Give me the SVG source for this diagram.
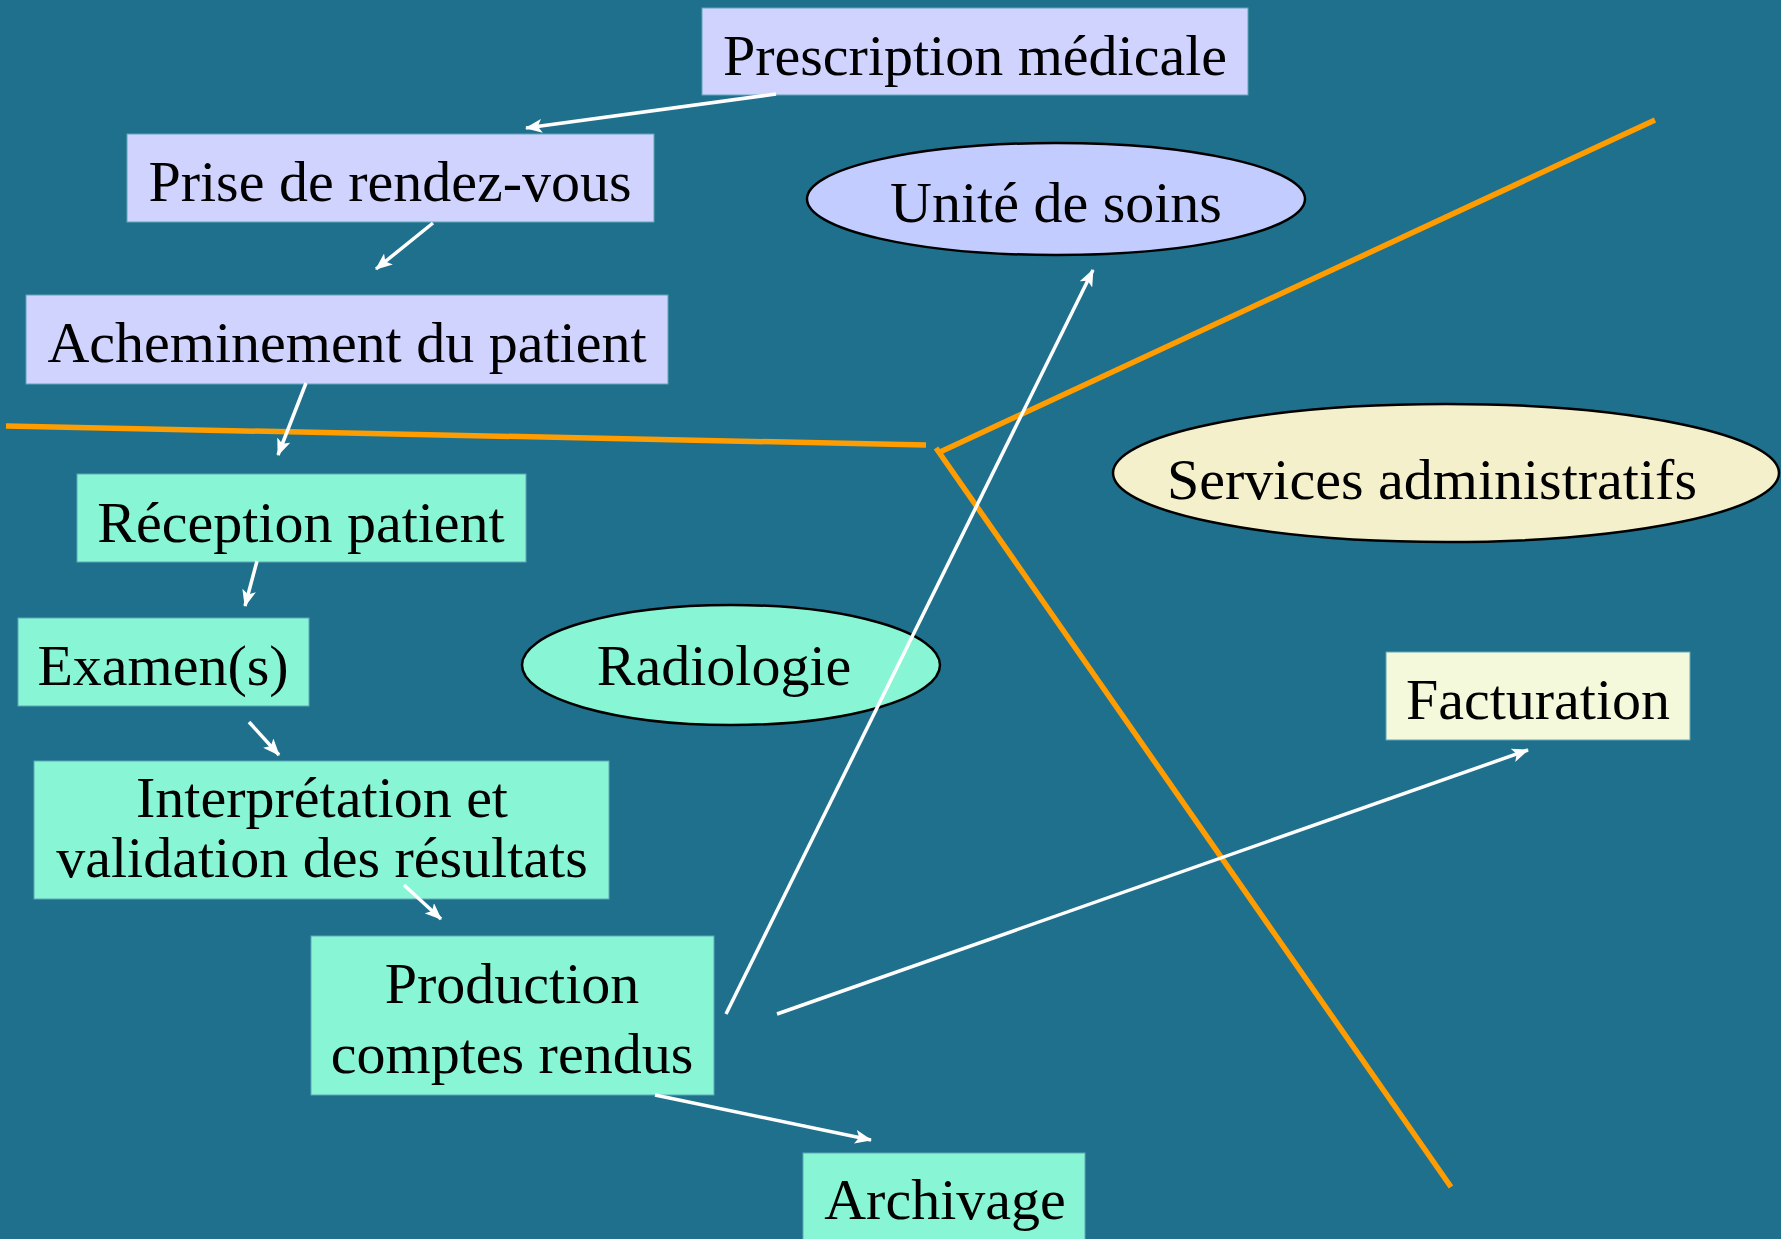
<svg xmlns="http://www.w3.org/2000/svg" width="1781" height="1239" viewBox="0 0 1781 1239">
  <style>
    .lbl { font-family: "Liberation Serif", "Times New Roman", serif; font-size: 58px; fill: #000; text-anchor: middle; }
    .box { stroke: #5fa6b8; stroke-width: 1; }
    .lav { fill: #d0d3fe; }
    .aqua { fill: #88f6d4; }
    .ell { stroke: #000; stroke-width: 2.5; }
    .flow { stroke: #ffffff; stroke-width: 3.5; fill: none; marker-end: url(#tip); }
    .split { stroke: #ff9c00; stroke-width: 5.5; fill: none; }
  </style>
  <defs>
    <marker id="tip" markerUnits="userSpaceOnUse" markerWidth="18" markerHeight="14" refX="16" refY="7" orient="auto">
      <path d="M0,0 L17,7 L0,14 L4,7 Z" fill="#ffffff"/>
    </marker>
  </defs>

  <rect width="1781" height="1239" fill="#1f708c"/>

  <!-- zone boundaries -->
  <g id="boundaries">
    <line class="split" x1="6" y1="426" x2="926" y2="445"/>
    <line class="split" x1="940" y1="452" x2="1655" y2="120"/>
    <line class="split" x1="936" y1="448" x2="1451" y2="1187"/>
  </g>

  <!-- departments -->
  <g id="unite-soins">
    <ellipse class="ell" cx="1056" cy="199" rx="249" ry="56" fill="#c3ccfe"/>
    <text class="lbl" x="1056" y="222">Unité de soins</text>
  </g>
  <g id="radiologie">
    <ellipse class="ell" cx="731" cy="665" rx="209" ry="60" fill="#88f6d4"/>
    <text class="lbl" x="724" y="685">Radiologie</text>
  </g>
  <g id="services-administratifs">
    <ellipse class="ell" cx="1446" cy="473" rx="333" ry="69" fill="#f5f0cc"/>
    <text class="lbl" x="1432" y="499">Services administratifs</text>
  </g>

  <!-- process steps -->
  <g id="prescription">
    <rect class="box lav" x="702" y="8" width="546" height="87"/>
    <text class="lbl" x="975" y="75">Prescription médicale</text>
  </g>
  <g id="rendez-vous">
    <rect class="box lav" x="127" y="134" width="527" height="88"/>
    <text class="lbl" x="390" y="201">Prise de rendez-vous</text>
  </g>
  <g id="acheminement">
    <rect class="box lav" x="26" y="295" width="642" height="89"/>
    <text class="lbl" x="347" y="362">Acheminement du patient</text>
  </g>
  <g id="reception">
    <rect class="box aqua" x="77" y="474" width="449" height="88"/>
    <text class="lbl" x="301" y="542">Réception patient</text>
  </g>
  <g id="examens">
    <rect class="box aqua" x="18" y="618" width="291" height="88"/>
    <text class="lbl" x="163" y="685">Examen(s)</text>
  </g>
  <g id="interpretation">
    <rect class="box aqua" x="34" y="761" width="575" height="138"/>
    <text class="lbl" x="322" y="817">Interprétation et</text>
    <text class="lbl" x="322" y="877">validation des résultats</text>
  </g>
  <g id="production">
    <rect class="box aqua" x="311" y="936" width="403" height="159"/>
    <text class="lbl" x="512" y="1003">Production</text>
    <text class="lbl" x="512" y="1073">comptes rendus</text>
  </g>
  <g id="archivage">
    <rect class="box aqua" x="803" y="1153" width="282" height="100"/>
    <text class="lbl" x="945" y="1219">Archivage</text>
  </g>
  <g id="facturation">
    <rect class="box" x="1386" y="652" width="304" height="88" fill="#f5f9db"/>
    <text class="lbl" x="1538" y="719">Facturation</text>
  </g>

  <!-- flow arrows -->
  <g id="connectors">
    <line class="flow" x1="776" y1="94" x2="526" y2="128"/>
    <line class="flow" x1="433" y1="223" x2="376" y2="269"/>
    <line class="flow" x1="306" y1="383" x2="278" y2="455"/>
    <line class="flow" x1="257" y1="561" x2="245" y2="606"/>
    <line class="flow" x1="249" y1="722" x2="279" y2="755"/>
    <line class="flow" x1="404" y1="885" x2="441" y2="919"/>
    <line class="flow" x1="655" y1="1095" x2="871" y2="1140"/>
    <line class="flow" x1="726" y1="1014" x2="1093" y2="270"/>
    <line class="flow" x1="777" y1="1014" x2="1528" y2="750"/>
  </g>
</svg>
